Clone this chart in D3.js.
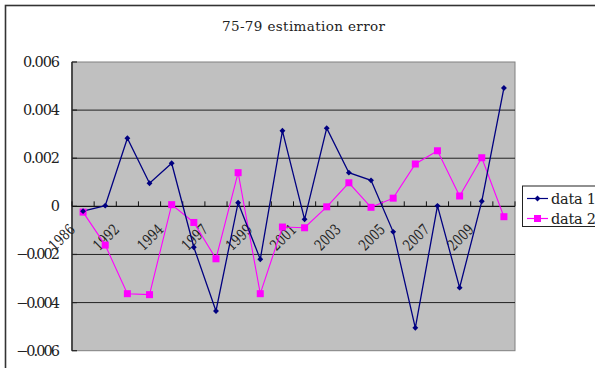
<!DOCTYPE html>
<html><head><meta charset="utf-8">
<script src="https://cdn.jsdelivr.net/npm/d3@7"></script>
<style>body{margin:0;background:#fff;}svg{display:block;}</style>
</head><body>
<svg id="c" width="595" height="368"></svg>
<script>
const title = "75-79 estimation error";
const categories = ["1986","1990","1992","1993","1994","1996","1997","1998","1999","2000","2001","2002","2003","2004","2005","2006","2007","2008","2009","2010"];
const shownLabels = ["1986","1992","1994","1997","1999","2001","2003","2005","2007","2009"];
const data1 = [-0.0002,0.00003,0.00283,0.00096,0.00179,-0.0017,-0.00435,0.00015,-0.0022,0.00314,-0.00054,0.00325,0.0014,0.00108,-0.00106,-0.00505,0.00002,-0.00338,0.00021,0.00492];
const data2 = [-0.00024,-0.00161,-0.00363,-0.00367,0.00007,-0.00067,-0.00218,0.0014,-0.00363,-0.00086,-0.00089,-0.00002,0.00098,-0.00004,0.00034,0.00176,0.00231,0.00043,0.00202,-0.00043];
const yTicks = [-0.006,-0.004,-0.002,0,0.002,0.004,0.006];
const seriesNames = ["data 1","data 2"];

const svg = d3.select("#c");
const L=72, R=515, T=62, B=350.7;
const x = d3.scalePoint().domain(categories).range([L,R]).padding(0.5);
const step = x.step();
const y = d3.scaleLinear().domain([-0.006,0.006]).range([B,T]);
const serif = "DejaVu Serif";

// outer chart border (only top/left visible)
svg.append("rect").attr("x",5.5).attr("y",5.5).attr("width",700).attr("height",500)
  .attr("fill","#fff").attr("stroke","#333").attr("stroke-width",1.6);

// title
svg.append("text").attr("x",303.5).attr("y",31).attr("text-anchor","middle")
  .style("font-family",serif).attr("font-size",13.5).attr("fill","#222")
  .attr("textLength",163).attr("lengthAdjust","spacing").text(title);

// plot area
svg.append("rect").attr("x",L).attr("y",T).attr("width",R-L).attr("height",B-T)
  .attr("fill","#C0C0C0").attr("stroke","#808080").attr("stroke-width",1);

// gridlines
svg.append("g").selectAll("line").data(yTicks.filter(d=>d!==0 && d!==0.006 && d!==-0.006)).join("line")
  .attr("x1",L).attr("x2",R).attr("y1",d=>y(d)).attr("y2",d=>y(d))
  .attr("stroke","#222").attr("stroke-width",1);

// y axis line and ticks
svg.append("line").attr("x1",L).attr("x2",L).attr("y1",T).attr("y2",B).attr("stroke","#333").attr("stroke-width",1.6);
svg.append("g").selectAll("line").data(yTicks).join("line")
  .attr("x1",L).attr("x2",L+5).attr("y1",d=>y(d)).attr("y2",d=>y(d)).attr("stroke","#222").attr("stroke-width",1.2);

// y labels
const fmt = d => d===0 ? "0" : (d<0?"\u2212":"") + Math.abs(d).toFixed(3);
svg.append("g").selectAll("text").data(yTicks).join("text")
  .attr("x",60).attr("y",d=>y(d)+5).attr("text-anchor","end")
  .style("font-family",serif).attr("font-size",14.5).attr("fill","#222")
  .each(function(d){ const s=fmt(d); d3.select(this).text(s);
     if(d!==0) d3.select(this).attr("textLength", d<0?44:37).attr("lengthAdjust","spacing"); });

// zero axis with ticks
const y0 = y(0);
svg.append("line").attr("x1",L).attr("x2",R).attr("y1",y0).attr("y2",y0).attr("stroke","#111").attr("stroke-width",1.3);
svg.append("g").selectAll("line").data(d3.range(categories.length+1)).join("line")
  .attr("x1",i=>L+i*step).attr("x2",i=>L+i*step).attr("y1",y0-5).attr("y2",y0)
  .attr("stroke","#111").attr("stroke-width",1);

// x labels rotated
svg.append("g").selectAll("text").data(categories.filter(c=>shownLabels.includes(c))).join("text")
  .attr("transform",c=>`translate(${x(c)-7},${y0+24}) rotate(-45)`)
  .attr("text-anchor","end").style("font-family",serif).attr("font-size",15).attr("fill","#222")
  .attr("textLength",30).attr("lengthAdjust","spacingAndGlyphs")
  .text(c=>c);

// lines
const line = d3.line().x((d,i)=>x(categories[i])).y(d=>y(d));
svg.append("path").datum(data2).attr("d",line).attr("fill","none").attr("stroke","#FF00FF").attr("stroke-width",1.1);
svg.append("path").datum(data1).attr("d",line).attr("fill","none").attr("stroke","#000080").attr("stroke-width",1.3);

// markers
svg.append("g").selectAll("rect").data(data2).join("rect")
  .attr("x",(d,i)=>x(categories[i])-3.5).attr("y",d=>y(d)-3.5).attr("width",7).attr("height",7).attr("fill","#FF00FF");
const diamond = d3.symbol().type(d3.symbolDiamond2).size(22);
svg.append("g").selectAll("path").data(data1).join("path")
  .attr("transform",(d,i)=>`translate(${x(categories[i])},${y(d)})`).attr("d",diamond).attr("fill","#000080");

// legend
const lg = svg.append("g");
lg.append("rect").attr("x",522.5).attr("y",186).attr("width",100).attr("height",40.5)
  .attr("fill","#fff").attr("stroke","#222").attr("stroke-width",1);
const ly = [198.5,218.5];
const colors = ["#000080","#FF00FF"];
seriesNames.forEach((n,i)=>{
  lg.append("line").attr("x1",527).attr("x2",548).attr("y1",ly[i]).attr("y2",ly[i]).attr("stroke",colors[i]).attr("stroke-width",1.2);
  if(i===0) lg.append("path").attr("transform",`translate(537.5,${ly[i]})`).attr("d",diamond).attr("fill",colors[i]);
  else lg.append("rect").attr("x",534).attr("y",ly[i]-3.5).attr("width",7).attr("height",7).attr("fill",colors[i]);
  lg.append("text").attr("x",551).attr("y",ly[i]+5).style("font-family",serif).attr("font-size",14.5).attr("fill","#222")
    .attr("textLength",45).attr("lengthAdjust","spacing").text(n);
});
</script>
</body></html>
